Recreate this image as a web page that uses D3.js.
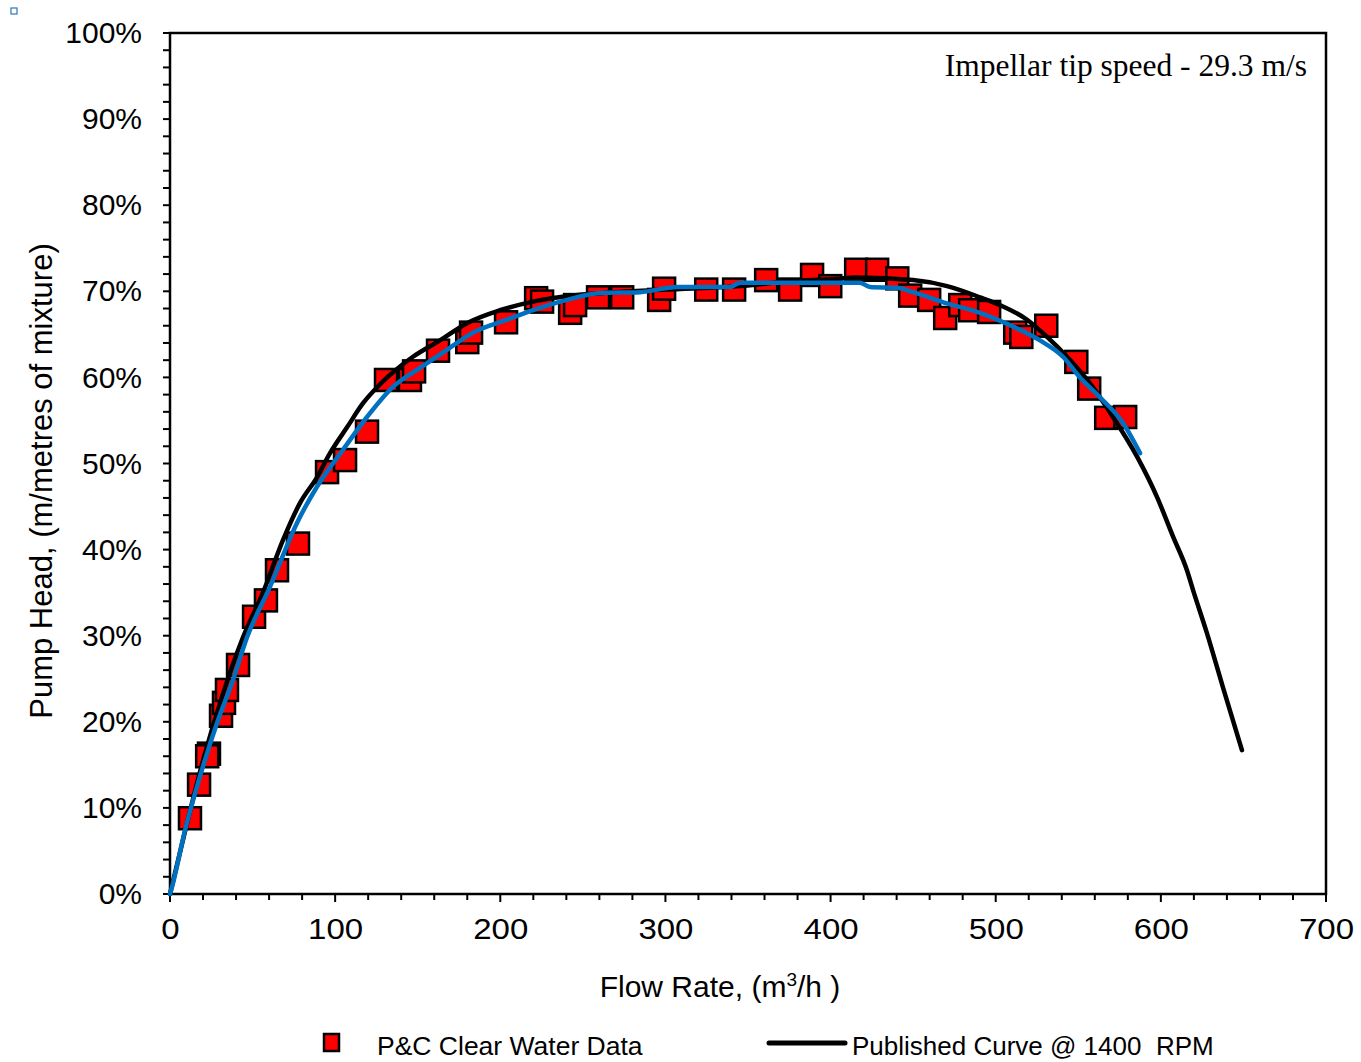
<!DOCTYPE html>
<html><head><meta charset="utf-8">
<script src="https://cdn.jsdelivr.net/npm/d3@7"></script>
<style>body{margin:0;background:#fff}svg{display:block}</style>
</head><body>
<script>
// P&C clear water data: flow (m3/h), head (%)
const dataFlow = [12.1,17.6,23.6,22.5,30.9,32.7,34.5,41.2,50.9,58.1,64.8,77.5,95.1,106,119.3,130.8,145.3,147.8,162.3,180,182.3,203.5,221.7,225.3,242.3,245.3,259.2,273.8,296.2,299.2,324.7,341.6,361,375.5,388.8,399.8,415.5,428.2,440.4,448.2,459.7,469.4,478.5,484.5,496,511.8,515.5,530.6,548.8,556.6,566.9,578.4];
const dataHead = [8.8,12.7,16.3,16.0,20.7,22.2,23.7,26.6,32.2,34.1,37.6,40.7,49.0,50.4,53.7,59.7,59.7,60.7,63.1,64.1,65.2,66.4,69.2,68.8,67.5,68.4,69.3,69.3,69.0,70.3,70.2,70.2,71.3,70.2,71.9,70.6,72.5,72.5,71.5,69.5,69.0,66.9,68.4,67.8,67.6,65.2,64.7,66.0,61.8,58.7,55.3,55.4];
// Published curve @ 1400 RPM
const pubFlow = [0,10,20,31.5,44.2,56.3,68.4,78.7,89.0,96.9,107.2,116.9,127.2,147.1,163.5,179.8,199.8,219.8,248.3,268.3,299.7,351.2,375.4,400.3,416.0,449.9,470.5,490.5,502.6,519.0,531.1,543.2,557.1,571.0,585.6,597.7,607.4,615.8,619.5,627.9,637.6,649.1];
const pubHead = [0,8.0,15.5,22.9,29.8,35.0,41.1,45.4,48.4,51.2,54.2,57.0,59.2,62.4,64.3,66.3,67.8,68.8,69.6,69.9,70.2,70.7,71.2,71.4,71.6,71.3,70.6,69.3,68.4,66.7,64.7,62.4,59.3,55.4,50.8,46.1,41.5,37.6,35.3,30.3,24.0,16.7];
// Fitted (blue) curve
const fitFlow = [0,1.2,9.1,17.0,29.1,37.5,46.6,60.6,76.9,89.0,104.8,119.3,135.0,151.4,167.7,183.5,204.1,219.8,240.4,260.4,284.6,307.0,339.1,345.2,417.8,423.9,440.2,449.9,470.5,490.5,510.5,526.8,540.7,551.0,563.1,577.1,587.4];
const fitHead = [0,0.8,7.4,12.9,20.2,24.5,29.8,35.7,43.1,47.3,51.6,55.4,58.9,61.1,63.2,65.2,66.7,67.8,69.0,69.8,69.9,70.5,70.5,71.0,71.0,70.5,70.4,69.9,68.6,67.5,65.9,64.3,62.4,60.0,57.7,54.7,51.2];
const xTicks = [0,100,200,300,400,500,600,700];
const yTicks = [0,10,20,30,40,50,60,70,80,90,100];
const legendLabels = ["P&C Clear Water Data","Published Curve @ 1400  RPM"];

const W=1361,H=1062;
const L=170,R=1326,T=33,B=894;
const svg=d3.select("body").append("svg").attr("width",W).attr("height",H);
const x=d3.scaleLinear().domain([0,700]).range([L,R]);
const y=d3.scaleLinear().domain([0,100]).range([B,T]);
const font="Liberation Sans, Arial, sans-serif";

// tiny blue marker top-left
svg.append("rect").attr("x",11).attr("y",8).attr("width",6).attr("height",6).attr("fill","none").attr("stroke","#2E75B6").attr("stroke-width",1.2);

// minor ticks
const xMinor=d3.range(0,701,20);
svg.append("g").selectAll("line").data(xMinor).join("line")
  .attr("x1",d=>x(d)).attr("x2",d=>x(d)).attr("y1",B).attr("y2",d=>B+(d%100===0?8:6))
  .attr("stroke","#000").attr("stroke-width",2);
const yMinor=d3.range(0,101,2);
svg.append("g").selectAll("line").data(yMinor).join("line")
  .attr("y1",d=>y(d)).attr("y2",d=>y(d)).attr("x1",L).attr("x2",L-7)
  .attr("stroke","#000").attr("stroke-width",2);

// axes via d3 (labels only)
const xAxis=svg.append("g").attr("transform",`translate(0,${B})`)
  .call(d3.axisBottom(x).tickValues(xTicks).tickSize(0).tickPadding(24));
xAxis.select(".domain").remove();
xAxis.selectAll("text").attr("font-family",font).attr("font-size",30).attr("fill","#000")
  .attr("transform","scale(1.1,1)");
const yAxis=svg.append("g").attr("transform",`translate(${L},0)`)
  .call(d3.axisLeft(y).tickValues(yTicks).tickSize(0).tickPadding(28).tickFormat(d=>d+"%"));
yAxis.select(".domain").remove();
yAxis.selectAll("text").attr("font-family",font).attr("font-size",30).attr("fill","#000");

// frame
svg.append("rect").attr("x",L).attr("y",T).attr("width",R-L).attr("height",B-T)
  .attr("fill","none").attr("stroke","#000").attr("stroke-width",2.5);

// data squares
const pts=dataFlow.map((f,i)=>[f,dataHead[i]]);
const S=22;
svg.append("g").selectAll("rect").data(pts).join("rect")
  .attr("x",d=>x(d[0])-S/2).attr("y",d=>y(d[1])-S/2).attr("width",S).attr("height",S)
  .attr("fill","#FF0000").attr("stroke","#000").attr("stroke-width",2.5);

const line=d3.line().x(d=>x(d[0])).y(d=>y(d[1])).curve(d3.curveMonotoneX);
svg.append("path").datum(pubFlow.map((f,i)=>[f,pubHead[i]])).attr("d",line)
  .attr("fill","none").attr("stroke","#000").attr("stroke-width",4.5).attr("stroke-linecap","round").attr("stroke-linejoin","round");
svg.append("path").datum(fitFlow.map((f,i)=>[f,fitHead[i]])).attr("d",line)
  .attr("fill","none").attr("stroke","#0070C0").attr("stroke-width",4.5).attr("stroke-linecap","round").attr("stroke-linejoin","round");

// annotation
svg.append("text").attr("x",1307).attr("y",76).attr("text-anchor","end")
  .attr("font-family","Liberation Serif, Times New Roman, serif").attr("font-size",31.5).attr("fill","#000")
  .text("Impellar tip speed - 29.3 m/s");

// axis titles
const xt=svg.append("text").attr("x",720).attr("y",997).attr("text-anchor","middle")
  .attr("font-family",font).attr("font-size",30).attr("fill","#000");
xt.append("tspan").text("Flow Rate, (m");
xt.append("tspan").attr("font-size",19).attr("dy",-11).text("3");
xt.append("tspan").attr("dy",11).text("/h )");
svg.append("text").attr("transform","translate(52,481) rotate(-90)").attr("text-anchor","middle")
  .attr("font-family",font).attr("font-size",31).attr("fill","#000")
  .text("Pump Head, (m/metres of mixture)");

// legend
svg.append("rect").attr("x",324).attr("y",1034).attr("width",15).attr("height",17)
  .attr("fill","#FF0000").attr("stroke","#000").attr("stroke-width",2.5);
svg.append("text").attr("x",377).attr("y",1055).attr("font-family",font).attr("font-size",26.5).attr("fill","#000").text(legendLabels[0]);
svg.append("line").attr("x1",769).attr("x2",845).attr("y1",1043).attr("y2",1043).attr("stroke","#000").attr("stroke-width",5).attr("stroke-linecap","round");
svg.append("text").attr("x",852).attr("y",1055).attr("font-family",font).attr("font-size",26).attr("fill","#000").style("white-space","pre").text(legendLabels[1]);
</script>
</body></html>
